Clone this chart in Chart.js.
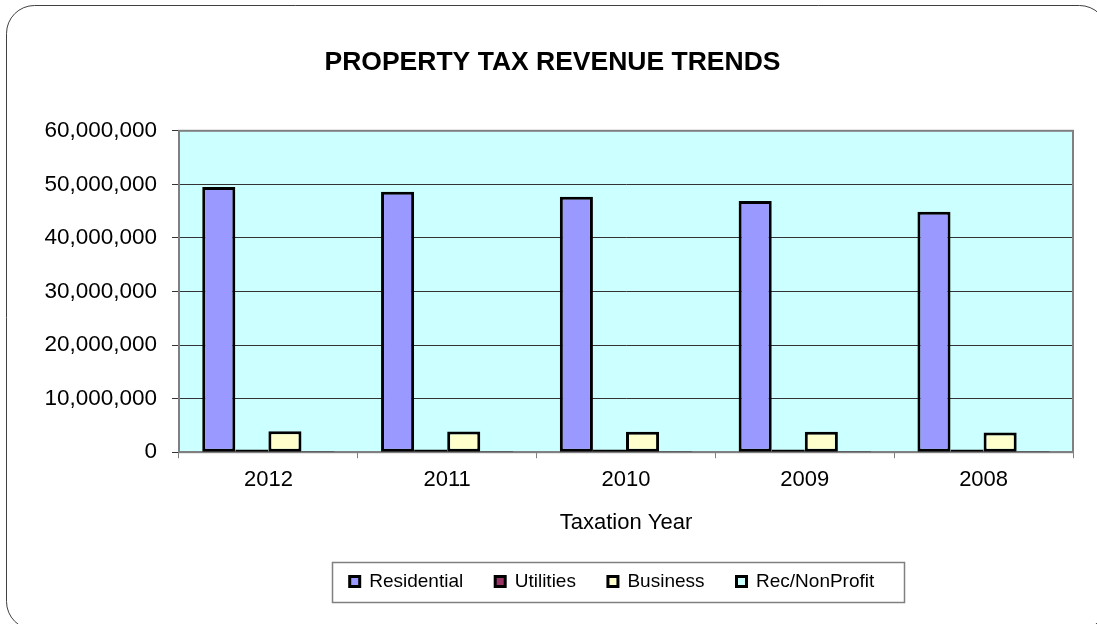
<!DOCTYPE html>
<html>
<head>
<meta charset="utf-8">
<title>Property Tax Revenue Trends</title>
<script src="https://cdn.jsdelivr.net/npm/chart.js@4.4.1/dist/chart.umd.min.js"></script>
<style>
  html, body { margin: 0; padding: 0; background: #fff; }
  canvas { display: block; }
</style>
</head>
<body>
<canvas id="taxChart" width="1097" height="624"></canvas>
<script>
// revenue by taxation year, newest first
const years = ['2012', '2011', '2010', '2009', '2008'];
const residential = [49500000, 48600000, 47700000, 46900000, 44900000];
const utilities = [500000, 500000, 500000, 500000, 500000];
const business = [3900000, 3850000, 3800000, 3800000, 3700000];
const recNonProfit = [200000, 200000, 200000, 200000, 200000];

const FONT = "Arial, 'Liberation Sans', sans-serif";

// white page, rounded outer frame and the cyan plot background
const frame = {
  id: 'frame',
  beforeDraw(chart) {
    const { ctx, chartArea: a } = chart;
    ctx.save();
    ctx.fillStyle = '#fff';
    ctx.fillRect(0, 0, chart.width, chart.height);
    ctx.strokeStyle = '#404040';
    ctx.lineWidth = 1;
    ctx.beginPath();
    ctx.roundRect(6.5, 5.5, 1101, 624, 28);
    ctx.stroke();
    ctx.fillStyle = '#ccffff';
    ctx.fillRect(a.left, a.top, a.right - a.left, a.bottom - a.top);
    ctx.restore();
  },
  beforeDatasetsDraw(chart) {
    const { ctx, chartArea: a } = chart;
    ctx.save();
    ctx.strokeStyle = '#808080';
    ctx.lineWidth = 2;
    ctx.strokeRect(a.left, a.top, a.right - a.left, a.bottom - a.top);
    ctx.restore();
  }
};

// title and legend sit a bit right of centre; legend gets a thin box
const legendBox = {
  id: 'legendBox',
  afterLayout(chart) {
    const lg = chart.legend;
    const dx = 612 - (lg.left + lg.right) / 2;
    lg.left += dx;
    lg.right += dx;
    const tb = chart.titleBlock;
    tb.left += 6;
    tb.right += 6;
  },
  afterDraw(chart) {
    const hb = chart.legend.legendHitBoxes;
    if (!hb.length) return;
    const left = Math.min(...hb.map(h => h.left)) - 18;
    const right = Math.max(...hb.map(h => h.left + h.width)) + 29;
    const top = hb[0].top - 10;
    const { ctx } = chart;
    ctx.save();
    ctx.strokeStyle = '#808080';
    ctx.lineWidth = 1.5;
    ctx.strokeRect(Math.round(left) + 0.5, Math.round(top) + 0.5, Math.round(right - left), 40);
    ctx.restore();
  }
};

const barStyle = { borderColor: '#000', borderWidth: 3, borderSkipped: false };

new Chart(document.getElementById('taxChart'), {
  type: 'bar',
  data: {
    labels: years,
    datasets: [
      { label: 'Residential', data: residential, backgroundColor: '#9999ff', ...barStyle },
      { label: 'Utilities', data: utilities, backgroundColor: '#993366', ...barStyle },
      { label: 'Business', data: business, backgroundColor: '#ffffcc', ...barStyle },
      { label: 'Rec/NonProfit', data: recNonProfit, backgroundColor: '#ccffff', ...barStyle }
    ]
  },
  options: {
    responsive: false,
    animation: false,
    devicePixelRatio: 1,
    layout: { padding: { left: 20, right: 24, top: 0, bottom: 23 } },
    datasets: { bar: { categoryPercentage: 0.74, barPercentage: 1 } },
    plugins: {
      title: {
        display: true,
        text: 'PROPERTY TAX REVENUE TRENDS',
        color: '#000',
        font: { family: FONT, size: 26.5, weight: 'bold' },
        padding: { top: 47, bottom: 52 }
      },
      legend: {
        position: 'bottom',
        labels: {
          color: '#000',
          font: { family: FONT, size: 19 },
          boxWidth: 10,
          boxHeight: 10,
          padding: 32
        }
      },
      tooltip: { enabled: false }
    },
    scales: {
      x: {
        grid: { drawOnChartArea: false, offset: true, tickLength: 6, color: '#808080' },
        border: { color: '#808080', width: 2 },
        ticks: { color: '#000', padding: 9, font: { family: FONT, size: 22 } },
        title: {
          display: true,
          text: 'Taxation Year',
          color: '#000',
          font: { family: FONT, size: 22 },
          padding: { top: 7, bottom: 4 }
        }
      },
      y: {
        min: 0,
        max: 60000000,
        afterFit: s => { s.width = 159; },
        grid: { color: '#333', tickLength: 7 },
        border: { color: '#555', width: 1.5 },
        ticks: {
          stepSize: 10000000,
          color: '#000',
          padding: 15,
          font: { family: FONT, size: 22.5 },
          callback: v => v.toLocaleString('en-US')
        }
      }
    }
  },
  plugins: [frame, legendBox]
});
</script>
</body>
</html>
